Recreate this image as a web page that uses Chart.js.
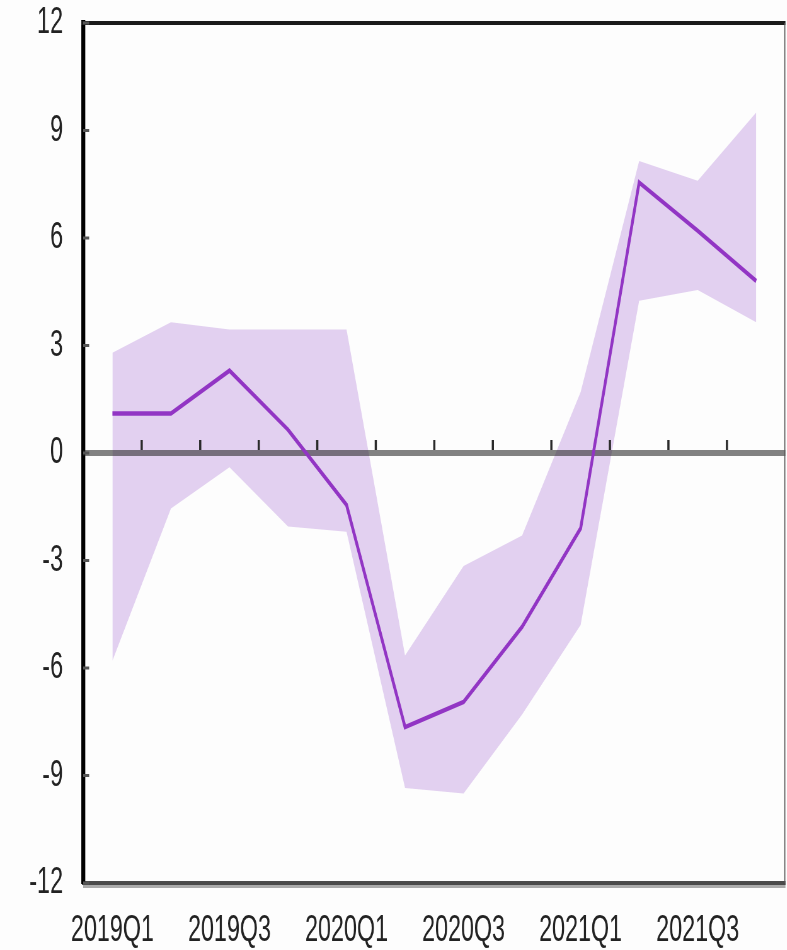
<!DOCTYPE html>
<html>
<head>
<meta charset="utf-8">
<title>Quarterly projection with band</title>
<script src="https://cdn.jsdelivr.net/npm/chart.js@4.4.1/dist/chart.umd.min.js"></script>
<style>
  html, body { margin: 0; padding: 0; background: #fdfdfd; overflow: hidden; }
  /* the reference is horizontally condensed: draw wide, squeeze on screen */
  #wrap { width: 1249px; height: 950px; position: relative; transform: scaleX(0.63); transform-origin: 0 0; }
</style>
</head>
<body>
<div id="wrap"><canvas id="chart"></canvas></div>
<script>
// --- data ---
const QUARTERS = [
  "2019Q1","2019Q2","2019Q3","2019Q4",
  "2020Q1","2020Q2","2020Q3","2020Q4",
  "2021Q1","2021Q2","2021Q3","2021Q4",
];
const CENTRAL = [1.1, 1.1, 2.3, 0.65, -1.45, -7.65, -6.95, -4.85, -2.1, 7.55, 6.2, 4.8];
const UPPER   = [2.8, 3.65, 3.45, 3.45, 3.45, -5.65, -3.15, -2.3, 1.7, 8.15, 7.6, 9.5];
const LOWER   = [-5.8, -1.55, -0.4, -2.05, -2.2, -9.35, -9.5, -7.3, -4.8, 4.25, 4.55, 3.65];
const Y_TICKS = [-12, -9, -6, -3, 0, 3, 6, 9, 12];

const SQUEEZE = 0.63;   // horizontal scale applied by CSS
const FONT = { family: "'Liberation Sans', Arial, sans-serif", size: 37 };
const LINE_COLOR = "#9235c4";
const BAND_COLOR = "#e2d0f0";

// zero line + tick marks go under the central line but over the band
const zeroLine = {
  id: "zeroLine",
  beforeDatasetDraw(chart, args) {
    if (args.index !== 0) return;
    const { ctx, chartArea: a, scales: { x, y } } = chart;
    const y0 = y.getPixelForValue(0);
    ctx.save();
    ctx.strokeStyle = "rgba(30,30,30,0.55)";
    ctx.lineWidth = 6;
    ctx.beginPath();
    ctx.moveTo(a.left, y0);
    ctx.lineTo(a.right, y0);
    ctx.stroke();
    // category boundary marks pointing up
    ctx.strokeStyle = "#2a2a2a";
    ctx.lineWidth = 2.2 / SQUEEZE;
    const step = (a.right - a.left) / QUARTERS.length;
    for (let i = 1; i < QUARTERS.length; i++) {
      const px = x.getPixelForValue(i) - step / 2;
      ctx.beginPath();
      ctx.moveTo(px, y0 - 3);
      ctx.lineTo(px, y0 - 13);
      ctx.stroke();
    }
    ctx.restore();
  },
  afterDraw(chart) {
    const { ctx, chartArea: a, scales: { y } } = chart;
    ctx.save();
    // frame: top black, right thin grey, light shadow under bottom axis
    ctx.strokeStyle = "#1a1a1a";
    ctx.lineWidth = 4;
    ctx.beginPath();
    ctx.moveTo(a.left - 3, a.top);
    ctx.lineTo(a.right, a.top);
    ctx.stroke();
    ctx.strokeStyle = "#555";
    ctx.lineWidth = 1 / SQUEEZE;
    ctx.beginPath();
    ctx.moveTo(a.right - 1, a.top);
    ctx.lineTo(a.right - 1, a.bottom);
    ctx.stroke();
    ctx.strokeStyle = "#aaa";
    ctx.lineWidth = 3;
    ctx.beginPath();
    ctx.moveTo(a.left, a.bottom + 3.5);
    ctx.lineTo(a.right, a.bottom + 3.5);
    ctx.stroke();
    // short inward y tick stubs
    ctx.strokeStyle = "#555";
    ctx.lineWidth = 3;
    Y_TICKS.forEach((v) => {
      const py = y.getPixelForValue(v);
      ctx.beginPath();
      ctx.moveTo(a.left, py);
      ctx.lineTo(a.left + 6 / SQUEEZE, py);
      ctx.stroke();
    });
    ctx.restore();
  },
};

new Chart(document.getElementById("chart"), {
  type: "line",
  data: {
    labels: QUARTERS,
    datasets: [
      {
        label: "Central",
        data: CENTRAL,
        borderColor: LINE_COLOR,
        borderWidth: 4.5,
        borderJoinStyle: "miter",
        pointRadius: 0,
        tension: 0,
        fill: false,
        order: 0,
      },
      {
        label: "Upper",
        data: UPPER,
        borderWidth: 0,
        borderColor: "rgba(0,0,0,0)",
        backgroundColor: BAND_COLOR,
        pointRadius: 0,
        tension: 0,
        fill: "+1",
        order: 1,
      },
      {
        label: "Lower",
        data: LOWER,
        borderWidth: 0,
        borderColor: "rgba(0,0,0,0)",
        pointRadius: 0,
        tension: 0,
        fill: false,
        order: 2,
      },
    ],
  },
  options: {
    responsive: true,
    maintainAspectRatio: false,
    animation: false,
    layout: { padding: { top: 23, right: 1, left: 0, bottom: 0 } },
    plugins: { legend: { display: false }, tooltip: { enabled: false } },
    scales: {
      x: {
        offset: true,
        grid: { display: false, drawTicks: false },
        border: { display: true, color: "#4a4a4a", width: 4 },
        ticks: {
          autoSkip: false,
          maxRotation: 0,
          padding: 26,
          color: "#222",
          font: FONT,
          callback: (v, i) => (i % 2 === 0 ? QUARTERS[i] : ""),
        },
        afterFit: (s) => { s.height = 67; s.paddingLeft = 0; s.paddingRight = 0; },
      },
      y: {
        min: -12,
        max: 12,
        afterBuildTicks: (s) => { s.ticks = Y_TICKS.map((v) => ({ value: v })); },
        grid: { display: false, drawTicks: false },
        border: { display: true, color: "#000", width: 4 / SQUEEZE },
        ticks: { padding: 32, color: "#222", font: FONT },
        afterFit: (s) => { s.width = 132; s.paddingTop = 0; s.paddingBottom = 0; },
      },
    },
  },
  plugins: [zeroLine],
});
</script>
</body>
</html>
